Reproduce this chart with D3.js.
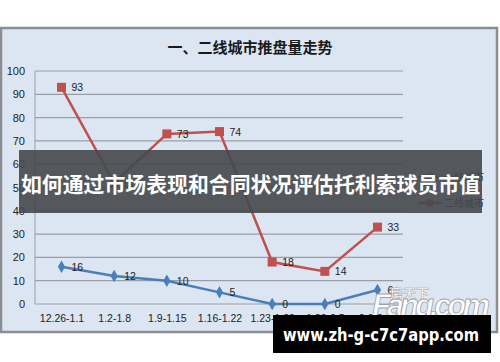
<!DOCTYPE html>
<html><head><meta charset="utf-8">
<script src="https://cdn.jsdelivr.net/npm/d3@7"></script>
<style>body{margin:0;background:#fff}svg{display:block}</style>
</head><body>
<script>
const categories = ["12.26-1.1","1.2-1.8","1.9-1.15","1.16-1.22","1.23-1.29","1.30-2.5","2.6-2.12"];
const tier1 = [16,12,10,5,0,0,6];
const tier2 = [93,52,73,74,18,14,33];
const yTicks = [0,10,20,30,40,50,60,70,80,90,100];
const seriesNames = ["一线城市","二线城市"];
const title = "一、二线城市推盘量走势";
const banner = "如何通过市场表现和合同状况评估托利索球员市值";
const footer = "www.zh-g-c7c7app.com";

const W=500,H=362;
const svg=d3.select("body").append("svg").attr("width",W).attr("height",H);
const font="'Noto Sans CJK SC','Liberation Sans',sans-serif";

// frame
svg.append("rect").attr("x",1).attr("y",28).attr("width",496).attr("height",304)
  .attr("fill","#dce6f2").attr("stroke","#8a8d91").attr("stroke-width",2.5);

svg.append("text").attr("x",250).attr("y",53).attr("text-anchor","middle")
  .attr("font-family",font).attr("font-weight","bold").attr("font-size",15).attr("fill","#1a1a1a").text(title);

const x=d3.scalePoint().domain(categories).range([61.5,377.5]);
const y=d3.scaleLinear().domain([0,100]).range([304,71]);

const g=svg.append("g");
g.selectAll("line.grid").data(yTicks).join("line").attr("class","grid")
  .attr("x1",35).attr("x2",403).attr("y1",d=>y(d)).attr("y2",d=>y(d))
  .attr("stroke","#9a9ea4").attr("stroke-width",1.2);
g.append("line").attr("x1",35).attr("x2",35).attr("y1",y(100)).attr("y2",y(0)).attr("stroke","#9a9ea4");

const yAxis=d3.axisLeft(y).tickValues(yTicks).tickSize(0).tickPadding(0);
const ya=svg.append("g").attr("transform","translate(25,0)").call(yAxis);
ya.select(".domain").remove();
ya.selectAll("text").attr("font-family","'Liberation Sans',sans-serif").attr("font-size",11).attr("fill","#222");

const xAxis=d3.axisBottom(x).tickSize(0).tickPadding(0);
const xa=svg.append("g").attr("transform","translate(0,315)").call(xAxis);
xa.select(".domain").remove();
xa.selectAll("text").attr("font-family","'Liberation Sans',sans-serif").attr("font-size",10.5).attr("fill","#222");

const line=d3.line().x((d,i)=>x(categories[i])).y(d=>y(d));
const blue="#4a7ebb", red="#c0504d";
svg.append("path").datum(tier1).attr("d",line).attr("fill","none").attr("stroke",blue).attr("stroke-width",2.5);
svg.append("path").datum(tier2).attr("d",line).attr("fill","none").attr("stroke",red).attr("stroke-width",2.5);

svg.selectAll("path.dia").data(tier1).join("path").attr("class","dia")
  .attr("d",d3.symbol(d3.symbolDiamond,45)).attr("transform",(d,i)=>`translate(${x(categories[i])},${y(d)})`).attr("fill",blue);
svg.selectAll("rect.sq").data(tier2).join("rect").attr("class","sq")
  .attr("x",(d,i)=>x(categories[i])-4.5).attr("y",d=>y(d)-4.5).attr("width",9).attr("height",9).attr("fill",red);

const lbl=(data)=>svg.append("g").selectAll("text").data(data).join("text")
  .attr("x",(d,i)=>x(categories[i])+10).attr("y",d=>y(d)+4)
  .attr("font-family","'Liberation Sans',sans-serif").attr("font-size",10.5).attr("fill","#222").text(d=>d);
lbl(tier1); lbl(tier2);

// legend
const leg=[{n:seriesNames[0],c:blue,yy:177},{n:seriesNames[1],c:red,yy:203}];
leg.forEach(l=>{
  svg.append("line").attr("x1",418).attr("x2",442).attr("y1",l.yy).attr("y2",l.yy).attr("stroke",l.c).attr("stroke-width",2.5);
  svg.append("rect").attr("x",426).attr("y",l.yy-3.5).attr("width",7).attr("height",7).attr("fill",l.c);
  svg.append("text").attr("x",444).attr("y",l.yy+4).attr("font-family",font).attr("font-size",10).attr("fill","#222").text(l.n);
});

// watermark
svg.append("text").attr("x",390).attr("y",298).attr("font-family",font).attr("font-weight","bold").attr("font-size",13)
  .attr("fill","#fff").attr("stroke","#9ea3aa").attr("stroke-width",0.5).text("房天下");
svg.append("text").attr("x",372).attr("y",316).attr("font-family","'Liberation Sans',sans-serif").attr("font-weight","bold")
  .attr("font-style","italic").attr("font-size",31).attr("fill","#fff").attr("fill-opacity",0.95)
  .attr("stroke","#9ea3aa").attr("stroke-width",0.8).attr("textLength",118).text("Fang.com");

// banner overlay
svg.append("rect").attr("x",19).attr("y",150).attr("width",463).attr("height",63).attr("fill","#45484d").attr("fill-opacity",0.9);
svg.append("text").attr("x",21).attr("y",192).attr("font-family",font).attr("font-weight","bold")
  .attr("font-size",21).attr("fill","#fff").attr("textLength",459).attr("lengthAdjust","spacingAndGlyphs").text(banner);

svg.append("rect").attr("x",273).attr("y",315).attr("width",218).attr("height",38).attr("fill","#000");
svg.append("text").attr("x",283).attr("y",341).attr("font-family","'DejaVu Sans',sans-serif").attr("font-weight","bold")
  .attr("font-size",17).attr("fill","#fff").attr("textLength",196).attr("lengthAdjust","spacingAndGlyphs").text(footer);
</script>
</body></html>
